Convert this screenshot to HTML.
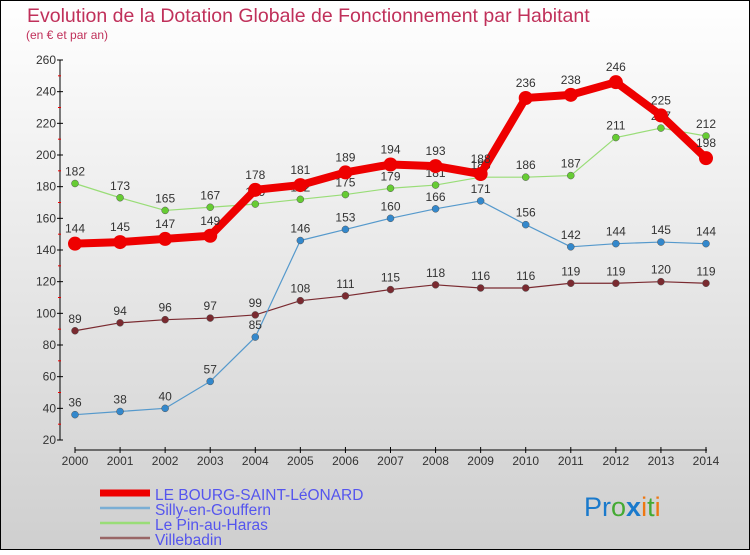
<!DOCTYPE html>
<html><head><meta charset="utf-8"><style>
body{margin:0;width:750px;height:550px;overflow:hidden;font-family:"Liberation Sans",sans-serif}
svg text{font-family:"Liberation Sans",sans-serif}
</style></head><body>
<svg id="c" width="750" height="550" xmlns="http://www.w3.org/2000/svg">
<defs><linearGradient id="bg" x1="0" y1="0" x2="0" y2="1"><stop offset="0" stop-color="#ffffff"/><stop offset="1" stop-color="#cfcfcf"/></linearGradient></defs>
<rect x="0.5" y="0.5" width="749" height="549" fill="url(#bg)" stroke="#000"/>
<text x="27" y="22" font-size="19.5" fill="#c0305a">Evolution de la Dotation Globale de Fonctionnement par Habitant</text>
<text x="26" y="39" font-size="12" fill="#c0305a">(en € et par an)</text>
<g id="axes"></g><g id="series"></g>
<g>
<line x1="100" y1="493" x2="150" y2="493" stroke="#e00" stroke-width="7"/>
<text x="155" y="500" font-size="15.5" fill="#5555ee">LE BOURG-SAINT-LéONARD</text>
<line x1="100" y1="508" x2="150" y2="508" stroke="#7aaed4" stroke-width="2.5"/>
<text x="155" y="515" font-size="15.5" fill="#5555ee">Silly-en-Gouffern</text>
<line x1="100" y1="523" x2="150" y2="523" stroke="#99dd77" stroke-width="2.5"/>
<text x="155" y="530" font-size="15.5" fill="#5555ee">Le Pin-au-Haras</text>
<line x1="100" y1="538" x2="150" y2="538" stroke="#996666" stroke-width="2.5"/>
<text x="155" y="545" font-size="15.5" fill="#5555ee">Villebadin</text>
</g>
<text x="584" y="516" font-size="27"><tspan fill="#1a7acc">Pr</tspan><tspan fill="#44aa33">o</tspan><tspan fill="#1a7acc" font-weight="bold">x</tspan><tspan fill="#ee7711">i</tspan><tspan fill="#44aa33">t</tspan><tspan fill="#ee7711">i</tspan></text>
</svg>
<script>
const years=[2000,2001,2002,2003,2004,2005,2006,2007,2008,2009,2010,2011,2012,2013,2014];
const bourg=[144,145,147,149,178,181,189,194,193,188,236,238,246,225,198];
const silly=[36,38,40,57,85,146,153,160,166,171,156,142,144,145,144];
const pin=[182,173,165,167,169,172,175,179,181,186,186,187,211,217,212];
const villebadin=[89,94,96,97,99,108,111,115,118,116,116,119,119,120,119];
const yTicks=[20,40,60,80,100,120,140,160,180,200,220,240,260];
const NS="http://www.w3.org/2000/svg";
const X=i=>75+i*(706-75)/(years.length-1);
const Y=v=>440-(v-20)*(380/240);
function mk(t,a,p){const e=document.createElementNS(NS,t);for(const k in a)e.setAttribute(k,a[k]);p.appendChild(e);return e;}
const ax=document.getElementById('axes');
const yl=mk('line',{x1:60,y1:Y(260),x2:60,y2:Y(20),stroke:'#000','stroke-width':1},ax);


yTicks.forEach((v,i)=>{
 mk('line',{x1:57,y1:Y(v),x2:63,y2:Y(v),stroke:'#000'},ax);
 if(i<yTicks.length-1)mk('line',{x1:58,y1:Y(v+10),x2:61,y2:Y(v+10),stroke:'#e00'},ax);
 const t=mk('text',{x:56,y:Y(v)+4,'font-size':12,'text-anchor':'end',fill:'#333'},ax);t.textContent=v;
 
 
});
const xl=mk('line',{x1:75,y1:450,x2:707,y2:450,stroke:'#000'},ax);


years.forEach((y,i)=>{
 mk('line',{x1:X(i),y1:447,x2:X(i),y2:453,stroke:'#000'},ax);
 const t=mk('text',{x:X(i),y:465,'font-size':12,'text-anchor':'middle',fill:'#333'},ax);t.textContent=y;
 
 
});
const sg=document.getElementById('series');
function series(d,name,col,dot,w,r){
 const g=mk('g',{},sg);
 
 
 const pl=mk('polyline',{points:d.map((v,i)=>X(i)+','+Y(v)).join(' '),fill:'none',stroke:col,'stroke-width':w,'stroke-linejoin':'round'},g);
 
 
 d.forEach((v,i)=>{
  const c=mk('circle',{cx:X(i),cy:Y(v),r:r,fill:dot,stroke:w>3?'none':'#555','stroke-width':0.5},g);
  
  
  const t=mk('text',{x:X(i),y:Y(v)-(w>3?11:8),'font-size':12,'text-anchor':'middle',fill:'#333'},g);t.textContent=v;
  
  
 });
}
series(villebadin,'villebadin','#7a2a30','#7a2a30',1.2,3.5);
series(silly,'silly','#5599cc','#3388cc',1.2,3.5);
series(pin,'pin','#99dd77','#66cc33',1.2,3.5);
series(bourg,'bourg','#ee0000','#ee0000',8,7);
</script>
</body></html>
